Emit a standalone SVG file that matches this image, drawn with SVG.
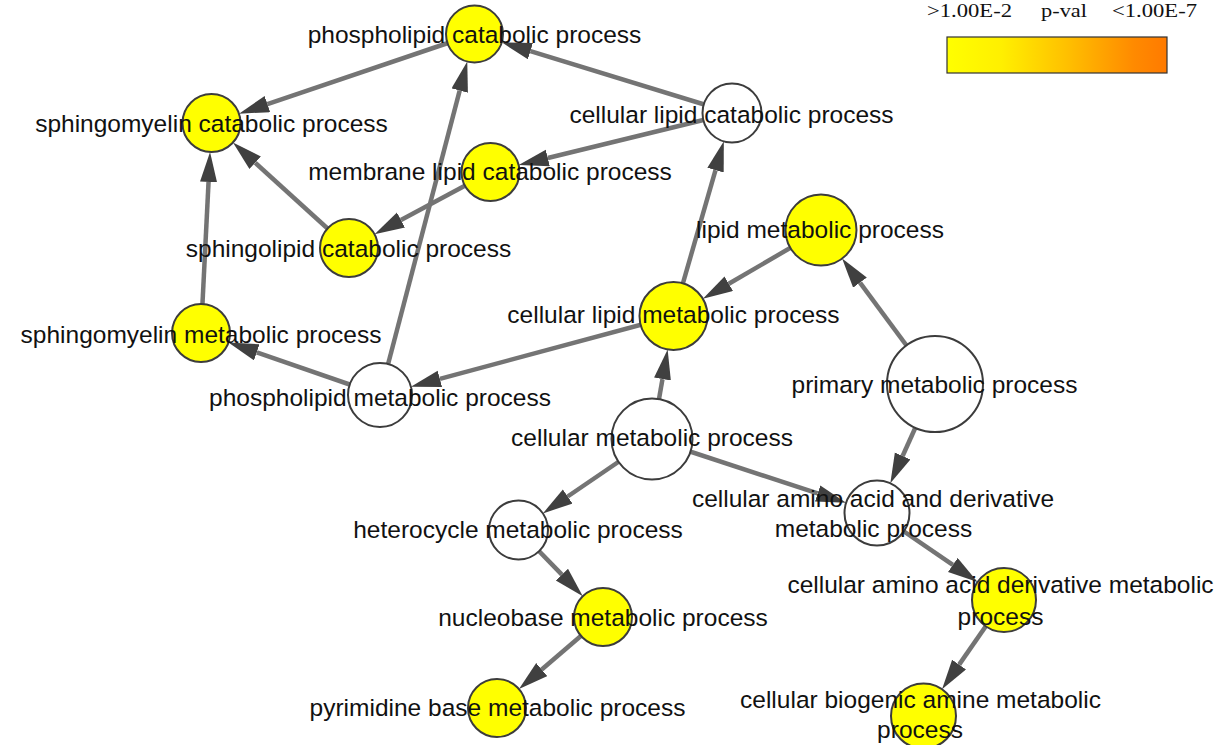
<svg xmlns="http://www.w3.org/2000/svg" width="1229" height="745" viewBox="0 0 1229 745">
<style>
.bg{fill:#ffffff}
.edge{stroke:#747474;stroke-width:4.5;fill:none;marker-end:url(#arrow)}
.node circle{stroke:#3c3c3c;stroke-width:2}
.sig{fill:#ffff00}
.ns{fill:#ffffff}
.lbl{font-family:"Liberation Sans",Arial,sans-serif;font-size:24.5px;fill:#111111;text-anchor:middle}
.leg{font-family:"Liberation Serif","Times New Roman",serif;font-size:19px;fill:#111111}
</style>
<defs>
<marker id="arrow" markerUnits="userSpaceOnUse" markerWidth="32" markerHeight="20" refX="0" refY="8.5" orient="auto">
<path d="M0,0 L30,8.5 L0,17 z" fill="#404040"/>
</marker>
<linearGradient id="pgrad" x1="0" y1="0" x2="1" y2="0">
<stop offset="0" stop-color="#ffff00"/>
<stop offset="0.25" stop-color="#ffef00"/>
<stop offset="0.55" stop-color="#ffbf00"/>
<stop offset="0.85" stop-color="#ff8a00"/>
<stop offset="1" stop-color="#ff7a00"/>
</linearGradient>
</defs>
<rect class="bg" x="0" y="0" width="1229" height="745"/>

<g id="legend">
<text class="leg" x="927" y="17" textLength="85" lengthAdjust="spacingAndGlyphs">&gt;1.00E-2</text>
<text class="leg" x="1041" y="17" textLength="46" lengthAdjust="spacingAndGlyphs">p-val</text>
<text class="leg" x="1112" y="17" textLength="85" lengthAdjust="spacingAndGlyphs">&lt;1.00E-7</text>
<rect x="947" y="37" width="220" height="36" fill="url(#pgrad)" stroke="#333333" stroke-width="1.2"/>
</g>

<g id="connectors">
<line class="edge" x1="474.5" y1="34" x2="267.39" y2="104.09"/>
<line class="edge" x1="732" y1="113" x2="530.43" y2="51.16"/>
<line class="edge" x1="732" y1="113" x2="547.81" y2="158.0"/>
<line class="edge" x1="490.5" y1="172" x2="400.98" y2="220.08"/>
<line class="edge" x1="349" y1="248" x2="255.16" y2="162.69"/>
<line class="edge" x1="201" y1="333" x2="208.55" y2="181.93"/>
<line class="edge" x1="380" y1="395" x2="459.68" y2="90.59"/>
<line class="edge" x1="380" y1="395" x2="256.76" y2="352.31"/>
<line class="edge" x1="673.5" y1="316" x2="439.87" y2="378.88"/>
<line class="edge" x1="673.5" y1="316" x2="715.52" y2="170.16"/>
<line class="edge" x1="821" y1="230" x2="728.8" y2="283.76"/>
<line class="edge" x1="935" y1="384" x2="859.97" y2="282.64"/>
<line class="edge" x1="935" y1="384" x2="902.63" y2="456.0"/>
<line class="edge" x1="652" y1="439" x2="662.48" y2="379.04"/>
<line class="edge" x1="652" y1="439" x2="567.66" y2="496.49"/>
<line class="edge" x1="652" y1="439" x2="817.64" y2="493.48"/>
<line class="edge" x1="518.5" y1="530" x2="561.9" y2="574.68"/>
<line class="edge" x1="603" y1="617" x2="541.76" y2="669.57"/>
<line class="edge" x1="877" y1="513" x2="952.83" y2="564.95"/>
<line class="edge" x1="1004" y1="600" x2="959.13" y2="664.65"/>
</g>

<g id="n-phospholipid-catabolic" class="node">
<circle class="sig" cx="474.5" cy="34" r="28.5"/>
<text class="lbl" x="474.5" y="43">phospholipid catabolic process</text>
</g>
<g id="n-sphingomyelin-catabolic" class="node">
<circle class="sig" cx="211.5" cy="123" r="29"/>
<text class="lbl" x="211.5" y="132">sphingomyelin catabolic process</text>
</g>
<g id="n-cellular-lipid-catabolic" class="node">
<circle class="ns" cx="732" cy="113" r="29.5"/>
<text class="lbl" x="731.5" y="123">cellular lipid catabolic process</text>
</g>
<g id="n-membrane-lipid-catabolic" class="node">
<circle class="sig" cx="490.5" cy="172" r="29"/>
<text class="lbl" x="490" y="180">membrane lipid catabolic process</text>
</g>
<g id="n-sphingolipid-catabolic" class="node">
<circle class="sig" cx="349" cy="248" r="29"/>
<text class="lbl" x="348.5" y="257">sphingolipid catabolic process</text>
</g>
<g id="n-lipid-metabolic" class="node">
<circle class="sig" cx="821" cy="230" r="35.5"/>
<text class="lbl" x="820" y="238">lipid metabolic process</text>
</g>
<g id="n-sphingomyelin-metabolic" class="node">
<circle class="sig" cx="201" cy="333" r="29"/>
<text class="lbl" x="201" y="343">sphingomyelin metabolic process</text>
</g>
<g id="n-cellular-lipid-metabolic" class="node">
<circle class="sig" cx="673.5" cy="316" r="34"/>
<text class="lbl" x="673.5" y="323">cellular lipid metabolic process</text>
</g>
<g id="n-phospholipid-metabolic" class="node">
<circle class="ns" cx="380" cy="395" r="32"/>
<text class="lbl" x="380" y="406">phospholipid metabolic process</text>
</g>
<g id="n-primary-metabolic" class="node">
<circle class="ns" cx="935" cy="384" r="48"/>
<text class="lbl" x="934.5" y="393">primary metabolic process</text>
</g>
<g id="n-cellular-metabolic" class="node">
<circle class="ns" cx="652" cy="439" r="40.5"/>
<text class="lbl" x="652" y="446">cellular metabolic process</text>
</g>
<g id="n-heterocycle-metabolic" class="node">
<circle class="ns" cx="518.5" cy="530" r="29.5"/>
<text class="lbl" x="518" y="538">heterocycle metabolic process</text>
</g>
<g id="n-cellular-amino-acid-and-derivative" class="node">
<circle class="ns" cx="877" cy="513" r="32.5"/>
<text class="lbl" x="873" y="507">cellular amino acid and derivative</text>
<text class="lbl" x="873.5" y="537">metabolic process</text>
</g>
<g id="n-nucleobase-metabolic" class="node">
<circle class="sig" cx="603" cy="617" r="29"/>
<text class="lbl" x="603" y="626">nucleobase metabolic process</text>
</g>
<g id="n-cellular-amino-acid-derivative" class="node">
<circle class="sig" cx="1004" cy="600" r="32"/>
<text class="lbl" x="1000.5" y="593">cellular amino acid derivative metabolic</text>
<text class="lbl" x="1000.5" y="625">process</text>
</g>
<g id="n-pyrimidine-base-metabolic" class="node">
<circle class="sig" cx="497" cy="708" r="29"/>
<text class="lbl" x="497.5" y="716">pyrimidine base metabolic process</text>
</g>
<g id="n-cellular-biogenic-amine" class="node">
<circle class="sig" cx="923.5" cy="716" r="32.5"/>
<text class="lbl" x="920.5" y="708">cellular biogenic amine metabolic</text>
<text class="lbl" x="920" y="738">process</text>
</g>
</svg>
